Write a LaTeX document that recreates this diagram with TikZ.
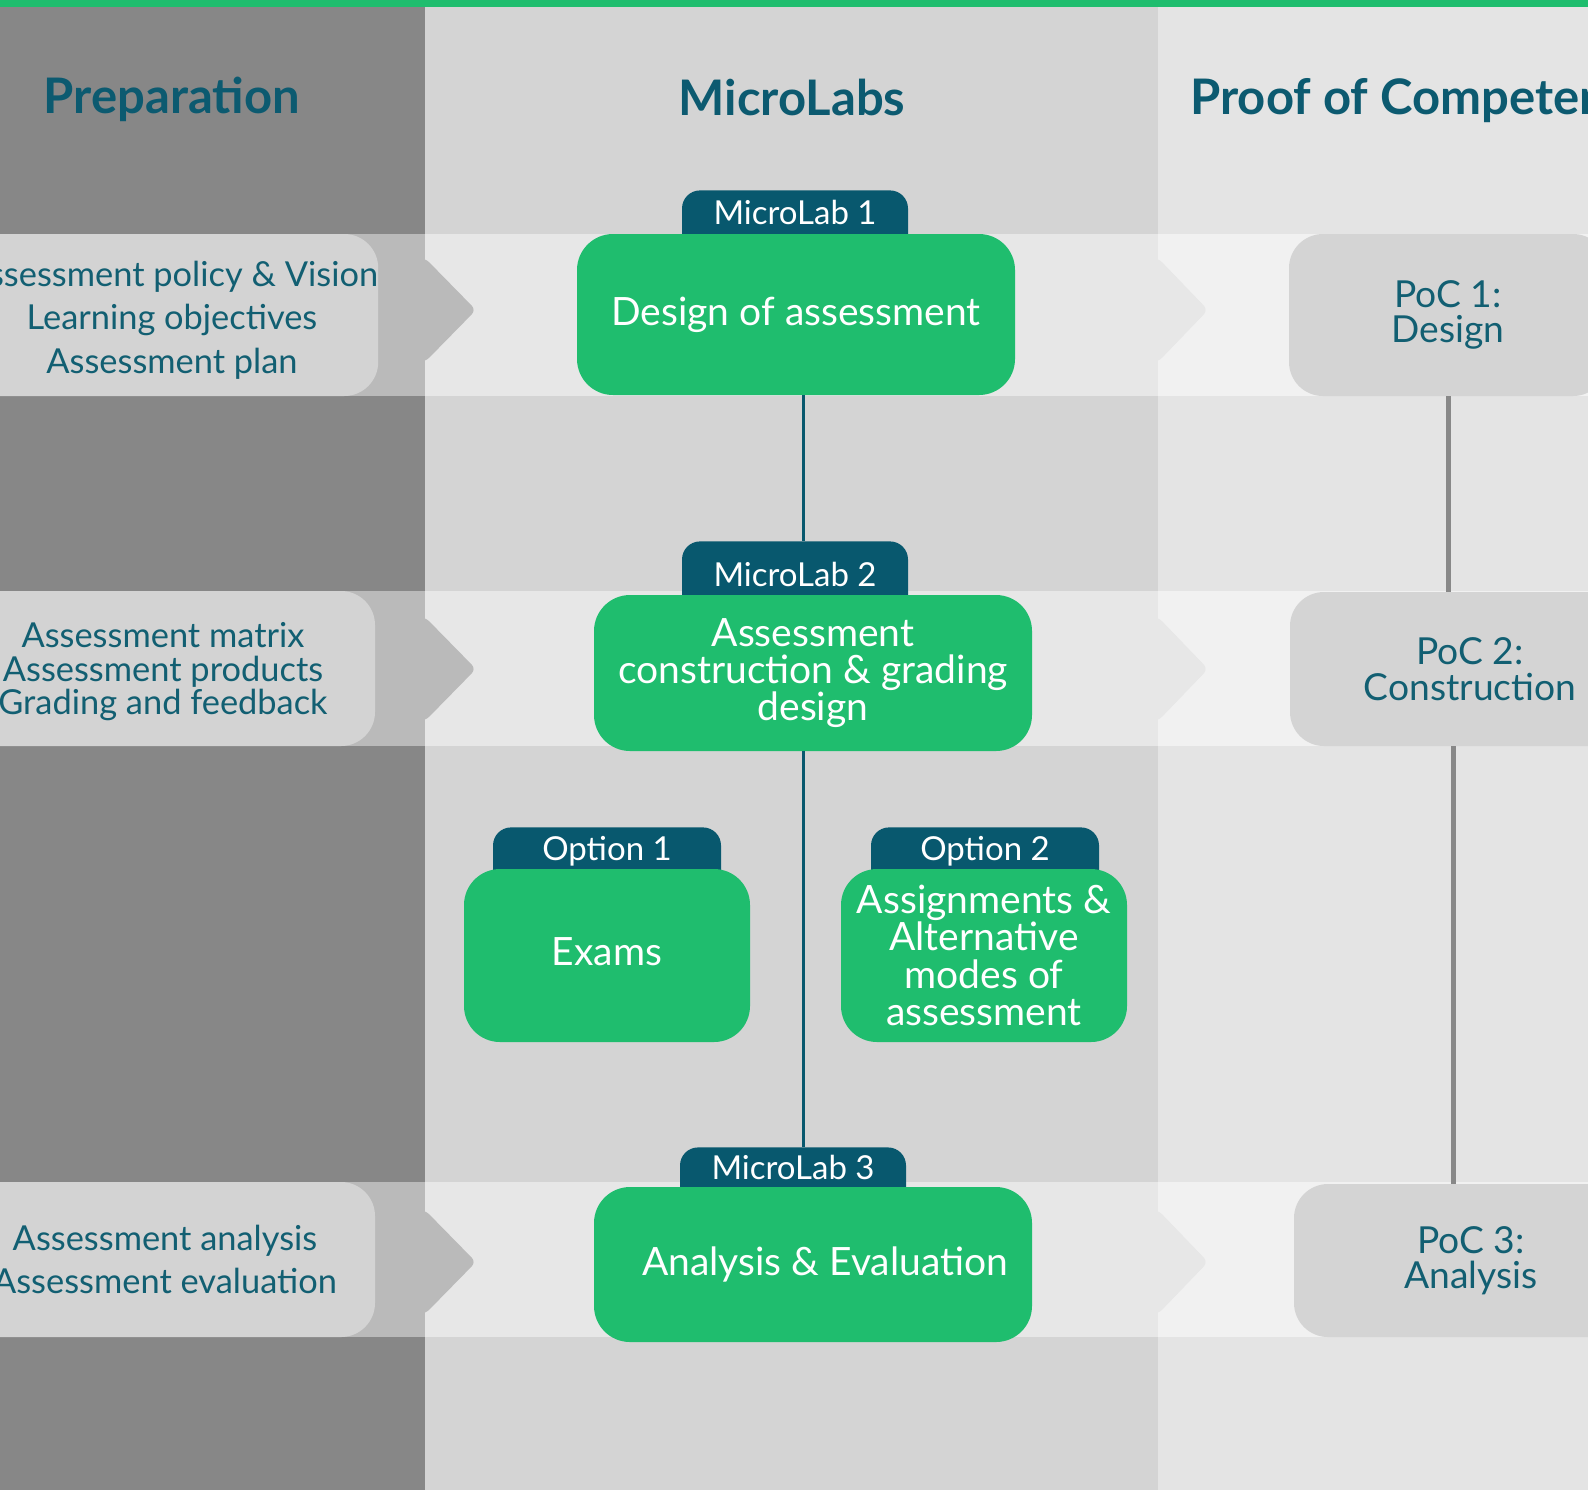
\documentclass[tikz,border=0pt]{standalone}
\usepackage{fontspec}
\setmainfont{Lato}

\definecolor{labgreen}{HTML}{1FBD6E}
\definecolor{labteal}{HTML}{08586E}
\definecolor{headteal}{HTML}{0C5A70}
\definecolor{boxtext}{HTML}{125F72}
\definecolor{prepcol}{HTML}{878787}
\definecolor{prepband}{HTML}{BABABA}
\definecolor{prepfill}{HTML}{D3D3D3}
\definecolor{labcol}{HTML}{D4D4D4}
\definecolor{labband}{HTML}{E7E7E7}
\definecolor{poccol}{HTML}{E4E4E4}
\definecolor{pocband}{HTML}{F1F1F1}
\definecolor{pocfill}{HTML}{D4D4D4}
\definecolor{poclinecol}{HTML}{888888}

\tikzset{
  header/.style={text=headteal, inner sep=0pt, font=\fontsize{24.5}{28}\selectfont\bfseries},
  labbox/.style={fill=labgreen, text=white, rounded corners=18pt, align=center,
    inner sep=0pt, font=\fontsize{19.5}{18.7}\selectfont},
  % tab reaches 15pt under its box, text kept in the visible part
  labtab/.style={fill=labteal, text=white, rounded corners=9pt, inner sep=0pt,
    anchor=north, minimum width=113pt, text height=12pt, text depth=15pt,
    font=\fontsize{16.5}{20}\selectfont},
  prepbox/.style={fill=prepfill, text=boxtext, rounded corners=17pt, align=center,
    inner sep=0pt},
  pocbox/.style={fill=pocfill, text=boxtext, rounded corners=17pt, align=center,
    inner sep=0pt, font=\fontsize{18.6}{17.7}\selectfont},
  labline/.style={labteal, line width=1.5pt},
  pocline/.style={poclinecol, line width=2.5pt},
}

\begin{document}
\begin{tikzpicture}[x=0.5pt,y=-0.5pt]
  \useasboundingbox (0,0) rectangle (1588,1490);
  \clip (0,0) rectangle (1588,1490);

  % columns
  \fill[prepcol] (0,0) rectangle (425,1490);
  \fill[labcol] (425,0) rectangle (1158,1490);
  \fill[poccol] (1158,0) rectangle (1588,1490);
  % row bands
  \foreach \ya/\yb in {234/396, 591/746, 1182/1337} {
    \fill[prepband] (0,\ya) rectangle (425,\yb);
    \fill[labband] (425,\ya) rectangle (1158,\yb);
    \fill[pocband] (1158,\ya) rectangle (1588,\yb);
  }
  % chevrons
  \foreach \yc in {310, 669, 1262} {
    \fill[prepband, rounded corners=3pt] (418,\yc-52) -- (425,\yc-52) -- (476,\yc)
      -- (425,\yc+52) -- (418,\yc+52) -- cycle;
    \fill[labband, rounded corners=3pt] (1150,\yc-52) -- (1158,\yc-52) -- (1208,\yc)
      -- (1158,\yc+52) -- (1150,\yc+52) -- cycle;
  }
  \fill[labgreen] (0,0) rectangle (1588,7);

  % headers
  \node[header] (prephead) at (172,99) {Preparation};
  \node[header] (labhead) at (792,97) {MicroLabs};
  \node[header, anchor=west] (pochead) at (1190,101) {Proof of Competence};

  % tabs
  \node[labtab, minimum height=37pt] (tab1) at (795,190) {MicroLab 1};
  \node[labtab, minimum height=42pt, text depth=9pt] (tab2) at (795,541) {MicroLab 2};
  \node[labtab, minimum height=35pt] (tab3) at (793,1147) {MicroLab 3};
  \node[labtab, minimum height=36pt, minimum width=114pt] (opt1tab) at (607,827) {Option 1};
  \node[labtab, minimum height=36pt, minimum width=114pt] (opt2tab) at (985,827) {Option 2};

  % microlabs
  \node[labbox, minimum width=219pt, minimum height=80.5pt] (ml1) at (796,314.5)
    {Design of assessment};
  \node[labbox, minimum width=219pt, minimum height=78pt] (ml2) at (813,673)
    {Assessment\\construction \& grading\\design};
  \node[labbox, minimum width=143pt, minimum height=86.5pt] (opt1) at (607,955.5)
    {\raisebox{4pt}{Exams}};
  \node[labbox, minimum width=143pt, minimum height=86.5pt] (opt2) at (984,955.5)
    {Assignments \&\\Alternative\\modes of\\assessment};
  \node[labbox, minimum width=219pt, minimum height=77.5pt] (ml3) at (813,1264.5)
    {\hspace*{12pt}Analysis \& Evaluation};

  % preparation
  \node[prepbox, minimum width=203pt, minimum height=81pt,
    font=\fontsize{17.2}{21.7}\selectfont] (prep1) at (172,315)
    {\rule{0pt}{17.7pt}Assessment policy \& Vision\\Learning objectives\\Assessment plan};
  \node[prepbox, minimum width=212pt, minimum height=77.5pt,
    font=\fontsize{17.2}{16.7}\selectfont] (prep2) at (163,668.5)
    {\rule{0pt}{15.7pt}Assessment matrix\\Assessment products\\Grading and feedback};
  \node[prepbox, minimum width=210pt, minimum height=77.5pt,
    font=\fontsize{17.2}{21.5}\selectfont] (prep3) at (165,1259.5)
    {Assessment analysis\\Assessment evaluation};

  % proof of competence
  \node[pocbox, minimum width=159pt, minimum height=81pt] (poc1) at (1448,315)
    {PoC 1:\\Design};
  \node[pocbox, minimum width=180pt, minimum height=77pt] (poc2) at (1470,669)
    {PoC 2:\\Construction};
  \node[pocbox, minimum width=177pt, minimum height=76.5pt] (poc3) at (1471,1260.5)
    {PoC 3:\\Analysis};

  % connectors
  \draw[labline] ([xshift=3.5pt]ml1.south) -- ([xshift=4pt]tab2.north);
  \draw[labline] ([xshift=-5pt]ml2.south) -- ([xshift=5pt]tab3.north);
  \draw[pocline] (poc1.south) -- (poc1.south |- poc2.north);
  \draw[pocline] ([xshift=-8.5pt]poc2.south) -- ([xshift=-9pt]poc3.north);
\end{tikzpicture}
\end{document}
